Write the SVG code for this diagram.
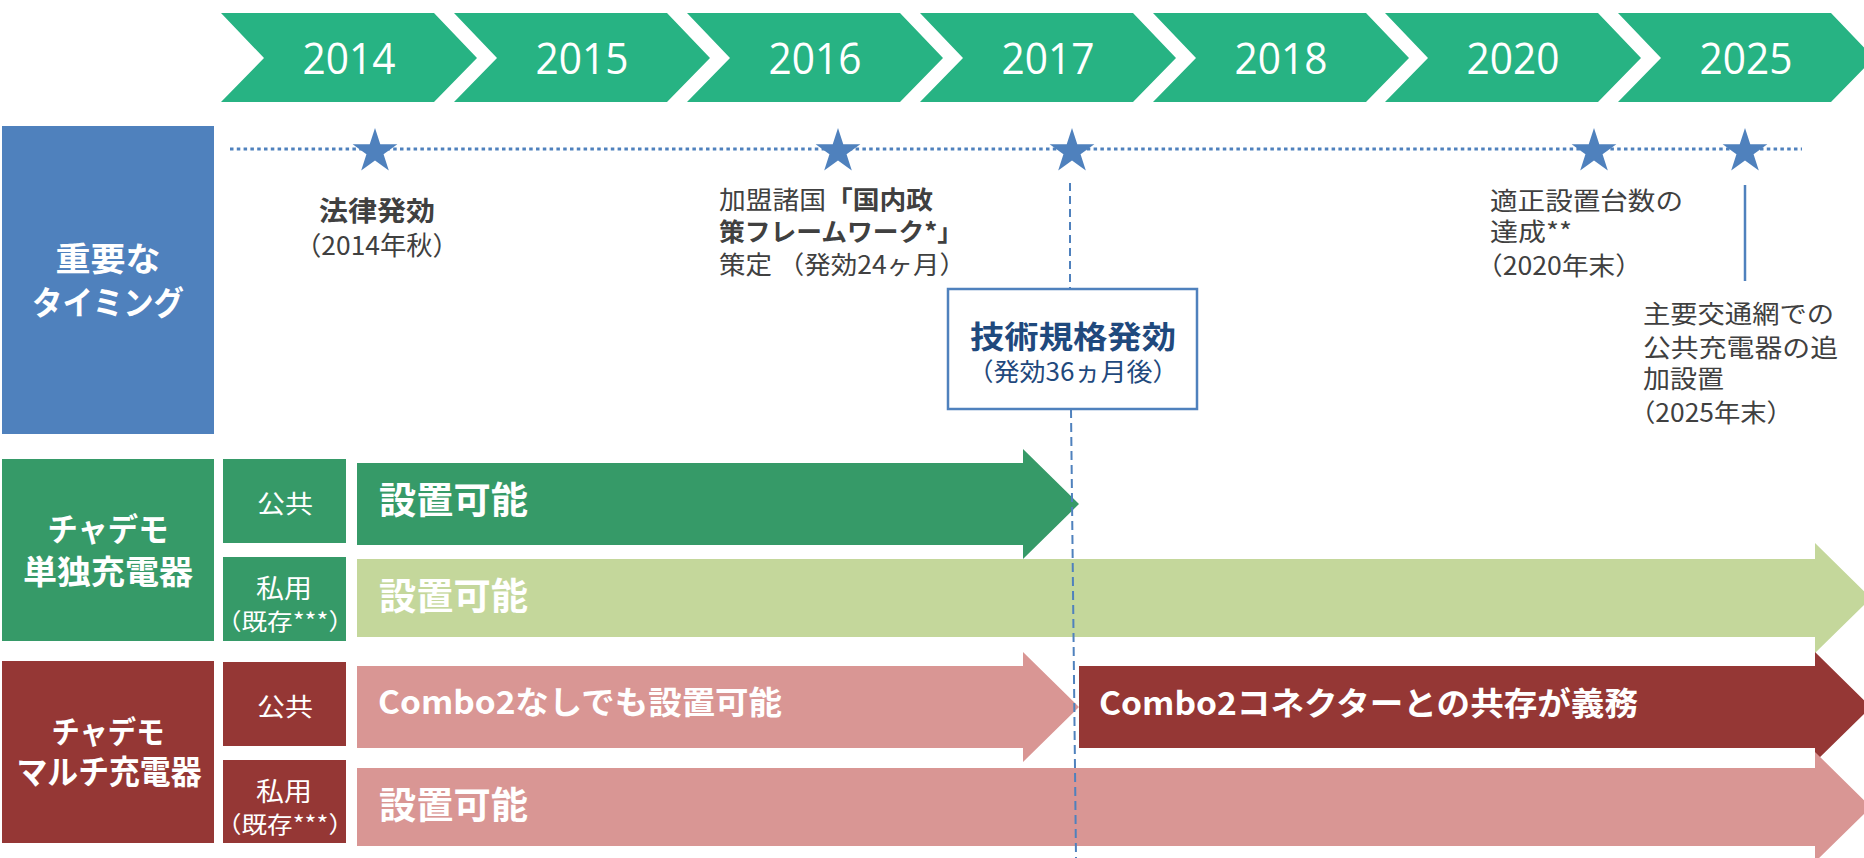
<svg xmlns="http://www.w3.org/2000/svg" width="1864" height="858" viewBox="0 0 1864 858">
<style>
.chev{fill:#27B383}
.yr{font-family:"Open Sans","Liberation Sans",sans-serif;font-size:43px;fill:#fff;text-anchor:middle}
.jp{font-family:"Noto Sans CJK JP","Noto Sans",sans-serif}
.b{font-weight:700}
.w{fill:#fff}
.g{fill:#404040}
.nv{fill:#1F497D}
.mid{text-anchor:middle}
.star{fill:#4F81BD}
.conn{fill:none;stroke:#4F81BD}
</style>
<defs>
<path id="star" d="M0,-23.5 L5.29,-7.28 L22.35,-7.26 L8.56,2.78 L13.81,19.01 L0,9 L-13.81,19.01 L-8.56,2.78 L-22.35,-7.26 L-5.29,-7.28 Z"/>
</defs>
<rect width="1864" height="858" fill="#fff"/>

<g id="years">
<g id="y2014"><polygon class="chev" points="221,13 434,13 477,58 434,102 221,102 264,58"/><text class="yr" x="349" y="74" textLength="93" lengthAdjust="spacingAndGlyphs">2014</text></g>
<g id="y2015"><polygon class="chev" points="454,13 667,13 710,58 667,102 454,102 497,58"/><text class="yr" x="582" y="74" textLength="93" lengthAdjust="spacingAndGlyphs">2015</text></g>
<g id="y2016"><polygon class="chev" points="687,13 900,13 943,58 900,102 687,102 730,58"/><text class="yr" x="815" y="74" textLength="93" lengthAdjust="spacingAndGlyphs">2016</text></g>
<g id="y2017"><polygon class="chev" points="920,13 1133,13 1176,58 1133,102 920,102 963,58"/><text class="yr" x="1048" y="74" textLength="93" lengthAdjust="spacingAndGlyphs">2017</text></g>
<g id="y2018"><polygon class="chev" points="1153,13 1366,13 1409,58 1366,102 1153,102 1196,58"/><text class="yr" x="1281" y="74" textLength="93" lengthAdjust="spacingAndGlyphs">2018</text></g>
<g id="y2020"><polygon class="chev" points="1385,13 1598,13 1641,58 1598,102 1385,102 1428,58"/><text class="yr" x="1513" y="74" textLength="93" lengthAdjust="spacingAndGlyphs">2020</text></g>
<g id="y2025"><polygon class="chev" points="1618,13 1831,13 1874,58 1831,102 1618,102 1661,58"/><text class="yr" x="1746" y="74" textLength="93" lengthAdjust="spacingAndGlyphs">2025</text></g>
</g>

<g id="timing-label">
<rect x="2" y="126" width="212" height="308" fill="#4F81BD"/>
<text class="jp b w mid" x="108" y="271" font-size="33" textLength="105" lengthAdjust="spacingAndGlyphs">重要な</text>
<text class="jp b w mid" x="108" y="315" font-size="33" textLength="152" lengthAdjust="spacingAndGlyphs">タイミング</text>
</g>

<g id="single-charger">
<rect x="2" y="459" width="212" height="182" fill="#369A68"/>
<text class="jp b w mid" x="108" y="541" font-size="32" textLength="121" lengthAdjust="spacingAndGlyphs">チャデモ</text>
<text class="jp b w mid" x="108" y="584" font-size="33" textLength="170" lengthAdjust="spacingAndGlyphs">単独充電器</text>
</g>
<g id="single-public">
<rect x="223" y="459" width="123" height="84" fill="#369A68"/>
<text class="jp w mid" x="285" y="513" font-size="25" textLength="56" lengthAdjust="spacingAndGlyphs">公共</text>
</g>
<g id="single-private">
<rect x="223" y="557" width="123" height="84" fill="#369A68"/>
<text class="jp w mid" x="284" y="598" font-size="26" textLength="56" lengthAdjust="spacingAndGlyphs">私用</text>
<text class="jp w mid" x="285" y="630" font-size="23" textLength="138" lengthAdjust="spacingAndGlyphs">（既存***）</text>
</g>

<g id="multi-charger">
<rect x="2" y="661" width="212" height="182" fill="#953735"/>
<text class="jp b w mid" x="108" y="743" font-size="31" textLength="113" lengthAdjust="spacingAndGlyphs">チャデモ</text>
<text class="jp b w mid" x="109" y="784" font-size="33" textLength="185" lengthAdjust="spacingAndGlyphs">マルチ充電器</text>
</g>
<g id="multi-public">
<rect x="223" y="662" width="123" height="84" fill="#953735"/>
<text class="jp w mid" x="285" y="716" font-size="25" textLength="56" lengthAdjust="spacingAndGlyphs">公共</text>
</g>
<g id="multi-private">
<rect x="223" y="760" width="123" height="83" fill="#953735"/>
<text class="jp w mid" x="284" y="801" font-size="26" textLength="56" lengthAdjust="spacingAndGlyphs">私用</text>
<text class="jp w mid" x="285" y="833" font-size="23" textLength="138" lengthAdjust="spacingAndGlyphs">（既存***）</text>
</g>

<g id="arrow-single-public">
<polygon points="357,463 1023,463 1023,449 1079,504 1023,559 1023,545 357,545" fill="#369A68"/>
<text class="jp b w" x="379" y="514" font-size="37" textLength="149" lengthAdjust="spacingAndGlyphs">設置可能</text>
</g>
<g id="arrow-single-private">
<polygon points="357,559 1815,559 1815,543 1871,598 1815,653 1815,637 357,637" fill="#C4D79B"/>
<text class="jp b w" x="379" y="610" font-size="37" textLength="149" lengthAdjust="spacingAndGlyphs">設置可能</text>
</g>
<g id="arrow-multi-public-before">
<polygon points="357,666 1023,666 1023,652 1079,707 1023,762 1023,748 357,748" fill="#D99694"/>
<text class="jp b w" x="378" y="714" font-size="32" textLength="404" lengthAdjust="spacingAndGlyphs">Combo2なしでも設置可能</text>
</g>
<g id="arrow-multi-public-after">
<polygon points="1079,666 1815,666 1815,652 1871,707 1815,762 1815,748 1079,748" fill="#953735"/>
<text class="jp b w" x="1099" y="715" font-size="32" textLength="539" lengthAdjust="spacingAndGlyphs">Combo2コネクターとの共存が義務</text>
</g>
<g id="arrow-multi-private">
<polygon points="357,768 1815,768 1815,752 1871,807 1815,862 1815,846 357,846" fill="#D99694"/>
<text class="jp b w" x="379" y="819" font-size="37" textLength="149" lengthAdjust="spacingAndGlyphs">設置可能</text>
</g>

<g id="connectors">
<path class="conn" d="M230,149 H1802" stroke-width="3" stroke-dasharray="3.5 3.3"/>
<path class="conn" d="M1070,183 V289" stroke-width="2" stroke-dasharray="8 5"/>
<path class="conn" d="M1071,409 L1076,858" stroke-width="2" stroke-dasharray="9 5"/>
<path class="conn" d="M1745,185 V281" stroke-width="2.5"/>
</g>

<g id="m2014">
<use href="#star" class="star" x="375" y="151.5"/>
<text class="jp b g mid" x="377" y="221" font-size="27" textLength="116" lengthAdjust="spacingAndGlyphs">法律発効</text>
<text class="jp g mid" x="377" y="255" font-size="26" textLength="164" lengthAdjust="spacingAndGlyphs">（2014年秋）</text>
</g>
<g id="m2016">
<use href="#star" class="star" x="838" y="151.5"/>
<text class="jp g" x="719" y="209" font-size="25" textLength="107" lengthAdjust="spacingAndGlyphs">加盟諸国</text>
<text class="jp b g" x="826" y="209" font-size="25" textLength="107" lengthAdjust="spacingAndGlyphs">「国内政</text>
<text class="jp b g" x="719" y="241" font-size="25" textLength="244" lengthAdjust="spacingAndGlyphs">策フレームワーク*」</text>
<text class="jp g" x="719" y="274" font-size="25" textLength="247" lengthAdjust="spacingAndGlyphs">策定 （発効24ヶ月）</text>
</g>
<g id="m2017">
<use href="#star" class="star" x="1072" y="151.5"/>
<rect x="948" y="289" width="249" height="120" fill="#fff" stroke="#4F81BD" stroke-width="2.5"/>
<text class="jp b nv mid" x="1073" y="348" font-size="31" textLength="206" lengthAdjust="spacingAndGlyphs">技術規格発効</text>
<text class="jp nv mid" x="1073" y="381" font-size="25" textLength="211" lengthAdjust="spacingAndGlyphs">（発効36ヵ月後）</text>
</g>
<g id="m2020">
<use href="#star" class="star" x="1594" y="151.5"/>
<text class="jp g" x="1490" y="210" font-size="25" textLength="193" lengthAdjust="spacingAndGlyphs">適正設置台数の</text>
<text class="jp g" x="1490" y="241" font-size="25" textLength="82" lengthAdjust="spacingAndGlyphs">達成**</text>
<text class="jp g" x="1476" y="275" font-size="25" textLength="166" lengthAdjust="spacingAndGlyphs">（2020年末）</text>
</g>
<g id="m2025">
<use href="#star" class="star" x="1745" y="151.5"/>
<text class="jp g" x="1643" y="323" font-size="25" textLength="191" lengthAdjust="spacingAndGlyphs">主要交通網での</text>
<text class="jp g" x="1643" y="357" font-size="25" textLength="195" lengthAdjust="spacingAndGlyphs">公共充電器の追</text>
<text class="jp g" x="1643" y="388" font-size="25" textLength="81" lengthAdjust="spacingAndGlyphs">加設置</text>
<text class="jp g" x="1629" y="422" font-size="25" textLength="164" lengthAdjust="spacingAndGlyphs">（2025年末）</text>
</g>
</svg>
